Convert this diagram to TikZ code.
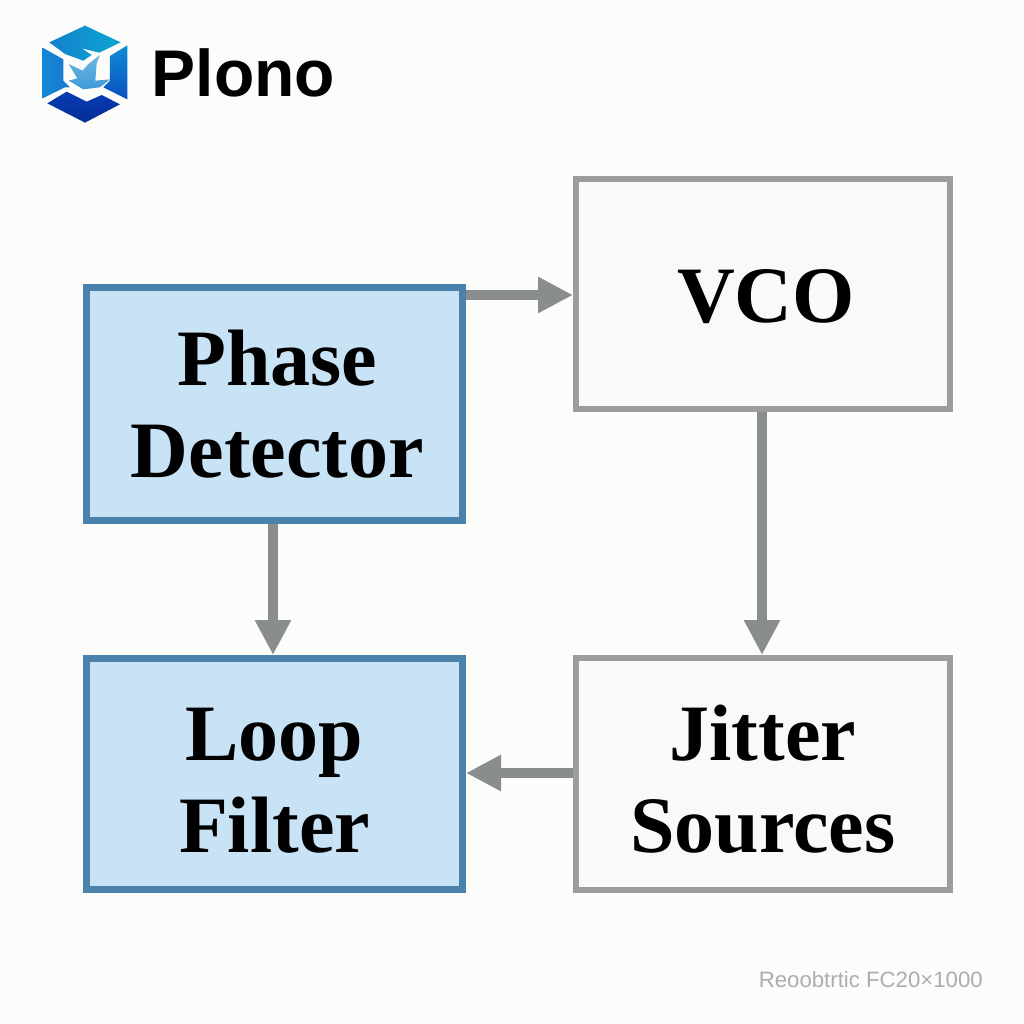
\documentclass[tikz,border=0pt]{standalone}
\usepackage{fontspec}
\setmainfont{Liberation Serif}
\newfontfamily\logofont{Liberation Sans}
\usetikzlibrary{arrows.meta}
\definecolor{bgc}{HTML}{FCFDFB}
\definecolor{bluefill}{HTML}{C9E3F6}
\definecolor{blueline}{HTML}{4A82AB}
\definecolor{grayfill}{HTML}{F8F9F8}
\definecolor{grayline}{HTML}{9C9E9E}
\definecolor{conn}{HTML}{8A8D8D}
\definecolor{footc}{HTML}{A9AEAE}
\definecolor{topL}{HTML}{1282CD}
\definecolor{topR}{HTML}{0CA5D2}
\definecolor{leftL}{HTML}{1487D7}
\definecolor{leftR}{HTML}{1978CD}
\definecolor{rightT}{HTML}{0F8CD7}
\definecolor{rightB}{HTML}{0A50BE}
\definecolor{botT}{HTML}{083CB4}
\definecolor{botB}{HTML}{052D96}
\definecolor{innerT}{HTML}{6DB8E0}
\definecolor{innerB}{HTML}{3F9AD8}
\tikzset{
  boxbase/.style={outer sep=auto},
  bluebox/.style={boxbase, draw=blueline, fill=bluefill, line width=7pt, minimum width=376pt},
  graybox/.style={boxbase, draw=grayline, fill=grayfill, line width=6pt, minimum width=374pt},
  boxlabel/.style={font=\fontsize{80}{92}\selectfont\bfseries, align=center, text=black},
  flow/.style={draw=conn, line width=9.5pt, -{Triangle[length=35pt,width=34pt,fill=conn]}},
  facet/.style={draw=none}
}
\begin{document}
\begin{tikzpicture}[x=1pt,y=-1pt]
\useasboundingbox (0,0) rectangle (1024,1024);
\fill[bgc] (0,0) rectangle (1024,1024);
% logo
\begin{scope}[shift={(20,10)},x=0.3333pt,y=-0.3333pt]
  \shade[facet,left color=topL,right color=topR]
    (88,97) -- (195,47) -- (302,97) -- (238,128) -- (185,115) -- (215,135) -- (190,152) -- (135,132) -- cycle;
  \shade[facet,left color=leftL,right color=leftR]
    (68,113) -- (130,148) -- (130,212) -- (150,232) -- (135,232) -- (68,265) -- cycle;
  \shade[facet,top color=rightT,bottom color=rightB]
    (322,106) -- (322,268) -- (250,232) -- (270,212) -- (270,138) -- cycle;
  \shade[facet,top color=botT,bottom color=botB]
    (82,280) -- (140,245) -- (200,275) -- (245,255) -- (300,283) -- (195,338) -- cycle;
  \shade[facet,top color=innerT,bottom color=innerB]
    (146,162) -- (188,182) -- (205,162) -- (240,135) -- (230,160) -- (226,212) -- (270,208) -- (240,232) -- (190,238) -- (146,212) -- (172,205) -- cycle;
\end{scope}
\node[font=\logofont\bfseries\fontsize{66}{66}\selectfont, anchor=base west, inner sep=0pt, text=black] (brand) at (151.5,97) {Plono};
% boxes
\node[bluebox, minimum height=233pt] (pd) at (274.5,404) {};
\node[graybox, minimum height=230pt] (vco) at (763,294) {};
\node[bluebox, minimum height=231pt] (lf) at (274.5,774) {};
\node[graybox, minimum height=232pt] (js) at (763,774) {};
% box labels
\node[boxlabel] (pdtext) at ([xshift=3pt]pd.center) {Phase\\Detector};
\node[boxlabel] (vcotext) at ([xshift=3pt,yshift=-3pt]vco.center) {VCO};
\node[boxlabel] (lftext) at ([yshift=-7pt]lf.center) {Loop\\Filter};
\node[boxlabel] (jstext) at ([yshift=-5pt]js.center) {Jitter\\Sources};
% connectors
\draw[flow] ([yshift=-1pt]pd.east |- vco.west) -- ([yshift=-1pt]vco.west);
\draw[flow] ([xshift=-1pt]vco.south) -- ([xshift=-1pt]js.north);
\draw[flow] ([xshift=-1.5pt]pd.south) -- ([xshift=-1.5pt]lf.north);
\draw[flow] ([yshift=1pt]js.west) -- ([yshift=1pt]lf.east);
% footer
\node[font=\logofont\fontsize{22.2}{22}\selectfont, text=footc, anchor=base east, inner sep=0pt] (foot) at (983,987) {Reoobtrtic FC20×1000};
\end{tikzpicture}
\end{document}
